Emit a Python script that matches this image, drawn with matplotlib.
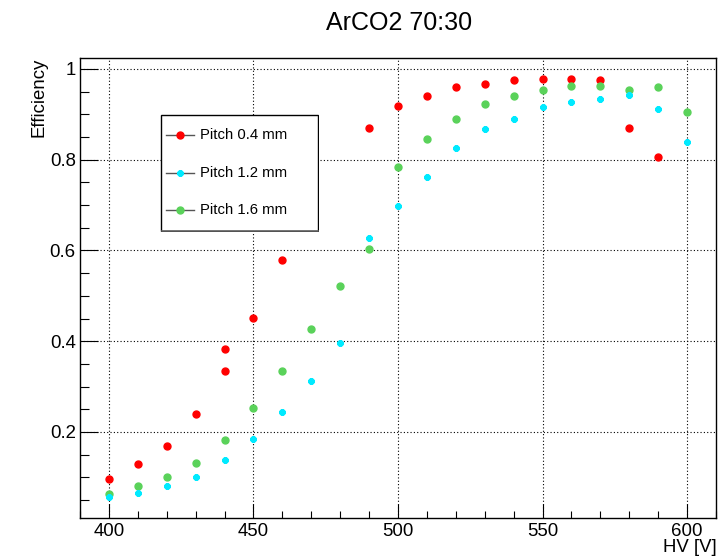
import matplotlib
matplotlib.use("Agg")
import matplotlib.pyplot as plt
from matplotlib.ticker import MultipleLocator, FuncFormatter
from matplotlib.lines import Line2D
from matplotlib.patches import Rectangle

plt.rcParams['font.family'] = ['Liberation Sans', 'DejaVu Sans']
plt.rcParams['lines.scale_dashes'] = False

# Efficiency vs high voltage for three strip pitches
hv_04 = [400, 410, 420, 430, 440, 440, 450, 460, 490, 500, 510, 520, 530,
         540, 550, 560, 570, 580, 590]
eff_04 = [0.097, 0.129, 0.170, 0.239, 0.335, 0.384, 0.452, 0.579, 0.870,
          0.918, 0.941, 0.960, 0.968, 0.975, 0.979, 0.979, 0.975, 0.870, 0.805]

hv_12 = [400, 410, 420, 430, 440, 450, 460, 470, 480, 490, 500, 510, 520,
         530, 540, 550, 560, 570, 580, 590, 600]
eff_12 = [0.056, 0.066, 0.081, 0.100, 0.138, 0.185, 0.244, 0.313, 0.396,
          0.628, 0.698, 0.763, 0.826, 0.867, 0.890, 0.916, 0.927, 0.934,
          0.942, 0.912, 0.839]

hv_16 = [400, 410, 420, 430, 440, 450, 460, 470, 480, 490, 500, 510, 520,
         530, 540, 550, 560, 570, 580, 590, 600]
eff_16 = [0.064, 0.081, 0.100, 0.131, 0.182, 0.252, 0.334, 0.426, 0.522,
          0.603, 0.785, 0.845, 0.890, 0.922, 0.941, 0.953, 0.963, 0.963,
          0.954, 0.960, 0.905]

labels = ["Pitch 0.4 mm", "Pitch 1.2 mm", "Pitch 1.6 mm"]
title = "ArCO2 70:30"
x_title = "HV [V]"
y_title = "Efficiency"

W, H = 718, 557
fig = plt.figure(figsize=(W / 100, H / 100), dpi=100)

# frame in pixel terms
left, right, top, bottom = 80, 716, 57.7, 517.7
ax = fig.add_axes([left / W, 1 - bottom / H, (right - left) / W, (bottom - top) / H])

styles = [
    dict(marker='o', color='#ff0000', ms=5.0, mec='#ff0000'),
    dict(marker=(8, 2, 0), color='#00eaff', ms=4.6, mew=1.5, mec='#00eaff'),
    dict(marker='o', color='#5ad25a', ms=5.0, mec='#5ad25a'),
]
series = [(hv_04, eff_04), (hv_12, eff_12), (hv_16, eff_16)]
zorders = [3, 5, 4]
for (x, y), st, z in zip(series, styles, zorders):
    ax.plot(x, y, linestyle='none', zorder=z, **st)

ax.set_xlim(390, 610)
ax.set_ylim(0.0111, 1.0249)

ax.xaxis.set_major_locator(MultipleLocator(50))
ax.xaxis.set_minor_locator(MultipleLocator(10))
ax.yaxis.set_major_locator(MultipleLocator(0.2))
ax.yaxis.set_minor_locator(MultipleLocator(0.05))
ax.yaxis.set_major_formatter(FuncFormatter(lambda v, p: f"{v:g}"))

ax.tick_params(axis='both', which='both', direction='in', top=False, right=False,
               labelsize=13.4, colors='black')
ax.tick_params(axis='x', which='major', length=10, width=0.8, pad=4)
ax.tick_params(axis='x', which='minor', length=5, width=0.8)
ax.tick_params(axis='y', which='major', length=13, width=0.8, pad=3)
ax.tick_params(axis='y', which='minor', length=6.5, width=0.8)

ax.grid(True, which='major', color='black', linestyle=(0, (0.8, 1.6)), linewidth=0.8)
for s in ax.spines.values():
    s.set_linewidth(1.0)
    s.set_color('black')

fig.text(398.7 / W, 1 - 29.5 / H, title, ha='center', va='baseline', fontsize=18)
fig.text(716.5 / W, 1 - 552 / H, x_title, ha='right', va='baseline', fontsize=13.4)
fig.text(30.5 / W, 1 - 58 / H, y_title, ha='right', va='top', rotation=90,
         rotation_mode='anchor', fontsize=13.4)

# legend box drawn in its own pixel-scaled axes
lx0, ly0, lw_, lh_ = 160, 114, 159, 117.7
lax = fig.add_axes([lx0 / W, 1 - (ly0 + lh_) / H, lw_ / W, lh_ / H])
lax.set_xlim(0, lw_)
lax.set_ylim(lh_, 0)
lax.axis('off')
lax.add_patch(Rectangle((0.5, 0.5), lw_ - 1, lh_ - 1.5, facecolor='white',
                        edgecolor='black', linewidth=1.0))
lax.plot([1.5, lw_ - 0.5], [lh_ - 0.8, lh_ - 0.8], color='#666666', lw=1.2)
rows = [21, 58.7, 96]
for ry, st, lab in zip(rows, styles, labels):
    lax.add_line(Line2D([6, 34], [ry, ry], color='#555555', lw=1.0))
    lax.plot([20], [ry], linestyle='none', **st)
    lax.text(40, ry, lab, ha='left', va='center', fontsize=10.7)

fig.savefig("out.png", dpi=100)
